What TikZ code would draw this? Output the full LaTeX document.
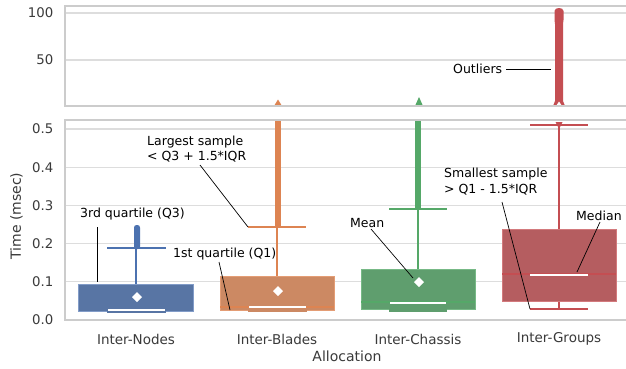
\documentclass[tikz,border=0pt]{standalone}
\usepackage{fontspec}
\setmainfont{DejaVu Sans}
\definecolor{spinec}{HTML}{CCCCCC}
\definecolor{gridc}{HTML}{DDDDDD}
\definecolor{tickc}{HTML}{3A3A3A}
\definecolor{bL}{HTML}{4C72B0}\definecolor{bF}{HTML}{5875A4}
\definecolor{oL}{HTML}{DD8452}\definecolor{oF}{HTML}{CC8963}
\definecolor{gL}{HTML}{55A868}\definecolor{gF}{HTML}{5F9E6E}
\definecolor{rL}{HTML}{C44E52}\definecolor{rF}{HTML}{B55D60}
\tikzset{
  spine/.style={draw=spinec, line width=1.4pt},
  gridline/.style={draw=gridc, line width=1.1pt},
  ticklab/.style={anchor=east, text=tickc, font=\fontsize{13.3}{15}\selectfont, inner sep=0pt},
  xlab/.style={text=tickc, font=\fontsize{13.5}{15}\selectfont, inner sep=0pt},
  axlab/.style={text=tickc, font=\fontsize{14}{16}\selectfont, inner sep=0pt},
  note/.style={text=black, font=\fontsize{12.5}{15.5}\selectfont, inner sep=0pt, align=left},
  leader/.style={draw=black, line width=0.7pt},
  whisk/.style={line width=1.8pt},
  medwhite/.style={draw=white, line width=1.8pt},
  meanmark/.style={fill=white, draw=none}
}
\begin{document}
\begin{tikzpicture}[x=1pt,y=-1pt]
\useasboundingbox (0,0) rectangle (626,368);
\fill[white] (0,0) rectangle (626,368);

% ---------- grid lines ----------
\foreach \yy in {13,60} \draw[gridline] (65,\yy) -- (626,\yy);
\foreach \yy in {129,167.2,205.4,243.6,281.8} \draw[gridline] (65,\yy) -- (626,\yy);

% ---------- upper panel (large values) ----------
\begin{scope}
\clip (65,6) rectangle (626,106);
% Inter-Blades outliers
\fill[oL] (274,106) -- (278,99.5) -- (282,106) -- cycle;
% Inter-Chassis outliers
\fill[gL] (415,106) -- (419,97) -- (423,106) -- cycle;
% Inter-Groups outliers
\fill[rL] (553,106) -- (555,101) -- (555,24) -- (554.5,20) -- (554.5,11)
  .. controls (554.5,7) and (563.5,7) .. (563.5,11) -- (563.5,20) -- (563,24)
  -- (563,101) -- (565,106) -- cycle;
\fill[white] (556,106) -- (559,101.5) -- (562,106) -- cycle;
\end{scope}

% ---------- lower panel ----------
\begin{scope}
\clip (65,120) rectangle (626,320);
% Inter-Nodes (blue)
\fill[bL, rounded corners=2.5pt] (134,249) rectangle (140,225);
\draw[bL, whisk] (136,284) -- (136,248);
\draw[bL, whisk] (107,248) -- (166,248);
\fill[bF] (107,308) rectangle (166,313);
\filldraw[fill=bF, draw=bL!70!white, line width=0.8pt] (78.5,284) rectangle (193.5,311);
\fill[bF] (107,309) rectangle (166,313);
\draw[medwhite] (108,310) -- (165,310);
\fill[meanmark] (137,292) -- (142,297) -- (137,302) -- (132,297) -- cycle;

% Inter-Blades (orange)
\fill[oL] (274.5,228) rectangle (280.5,118);
\draw[oL, whisk] (277,276) -- (277,227);
\draw[oL, whisk] (248,227) -- (306,227);
\filldraw[fill=oF, draw=oL!80!white, line width=0.8pt] (220,276) rectangle (334,310);
\fill[oF] (248,307) rectangle (307,312);
\draw[oL, line width=1.6pt] (220,307) -- (334,307);
\draw[medwhite] (249,307) -- (306,307);
\fill[meanmark] (278,286) -- (283,291) -- (278,296) -- (273,291) -- cycle;

% Inter-Chassis (green)
\fill[gL] (415,210) rectangle (421,118);
\draw[gL, whisk] (418,269) -- (418,209);
\draw[gL, whisk] (389,209) -- (447,209);
\filldraw[fill=gF, draw=gL!80!white, line width=0.8pt] (361,269) rectangle (475,309);
\fill[gF] (389,302) rectangle (447,312);
\draw[gL, line width=1.6pt] (361,302) -- (475,302);
\draw[medwhite] (390,303) -- (446,303);
\fill[meanmark] (419,277) -- (424,282) -- (419,287) -- (414,282) -- cycle;

% Inter-Groups (red)
\draw[rL, whisk] (559,229) -- (559,125);
\draw[rL, whisk] (530,125) -- (588,125);
\fill[rL] (555.5,122) -- (562.5,122) -- (559,129) -- cycle;
\draw[rL, whisk] (559,301) -- (559,309);
\draw[rL, whisk] (530,309) -- (588,309);
\filldraw[fill=rF, draw=rL!75!white, line width=0.8pt] (502,229) rectangle (616,301);
\draw[rL, line width=1.6pt] (502,274) -- (616,274);
\draw[medwhite] (530,275) -- (588,275);
\end{scope}

% ---------- spines ----------
\draw[spine] (626,6) -- (65,6) -- (65,106) -- (626,106);
\draw[spine] (626,120) -- (65,120) -- (65,320) -- (626,320);

% ---------- tick labels ----------
\node[ticklab] (t100) at (53.5,13) {100};
\node[ticklab] (t50) at (53.5,60) {50};
\node[ticklab] (t05) at (53.5,129) {0.5};
\node[ticklab] (t04) at (53.5,167.2) {0.4};
\node[ticklab] (t03) at (53.5,205.4) {0.3};
\node[ticklab] (t02) at (53.5,243.6) {0.2};
\node[ticklab] (t01) at (53.5,281.8) {0.1};
\node[ticklab] (t00) at (53.5,320) {0.0};

\node[xlab] (cN) at (136,339) {Inter-Nodes};
\node[xlab] (cB) at (277,339) {Inter-Blades};
\node[xlab] (cC) at (418,339) {Inter-Chassis};
\node[xlab] (cG) at (559,339) {Inter-Groups};

\node[axlab] (xl) at (347,356) {Allocation};
\node[axlab, rotate=90] (yl) at (16.5,216) {Time (msec)};

% ---------- annotations ----------
\node[note, anchor=west] (nOut) at (453,69) {Outliers};
\coordinate (pOutA) at (506,69);
\coordinate (pOutB) at (551,69);
\draw[leader] (pOutA) -- (pOutB);

\node[note, anchor=north west] (nLarge) at (147,135.5) {Largest sample\\< Q3 + 1.5*IQR};
\coordinate (pLargeA) at (200,165);
\coordinate (pLargeB) at (248,227);
\draw[leader] (pLargeA) -- (pLargeB);

\node[note, anchor=west] (nQ3) at (80,214.5) {3rd quartile (Q3)};
\coordinate (pQ3A) at (97,227);
\coordinate (pQ3B) at (97,282);
\draw[leader] (pQ3A) -- (pQ3B);

\node[note, anchor=west] (nQ1) at (173,254) {1st quartile (Q1)};
\coordinate (pQ1A) at (219,262);
\coordinate (pQ1B) at (230,310);
\draw[leader] (pQ1A) -- (pQ1B);

\node[note, anchor=west] (nMean) at (350,223) {Mean};
\coordinate (pMeanA) at (371,229);
\coordinate (pMeanB) at (413,278);
\draw[leader] (pMeanA) -- (pMeanB);

\node[note, anchor=north west] (nSmall) at (444,168) {Smallest sample\\> Q1 - 1.5*IQR};
\coordinate (pSmallA) at (502,202);
\coordinate (pSmallB) at (530,309);
\draw[leader] (pSmallA) -- (pSmallB);

\node[note, anchor=west] (nMed) at (576,215.5) {Median};
\coordinate (pMedA) at (600,222);
\coordinate (pMedB) at (577,272);
\draw[leader] (pMedA) -- (pMedB);
\end{tikzpicture}
\end{document}
